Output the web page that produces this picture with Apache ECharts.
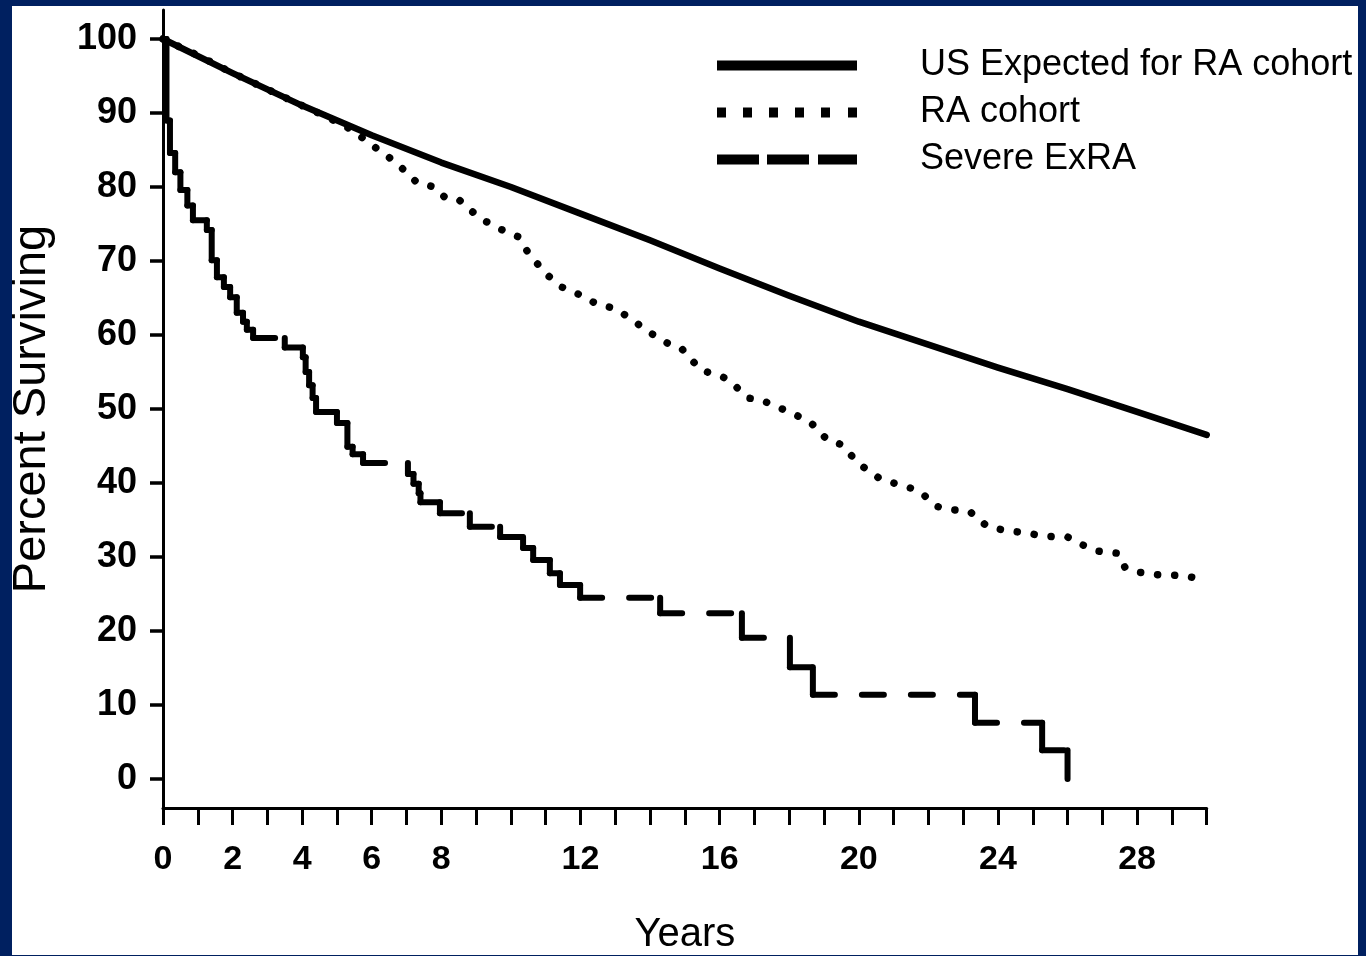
<!DOCTYPE html>
<html>
<head>
<meta charset="utf-8">
<title>Survival: US Expected vs RA cohort vs Severe ExRA</title>
<script src="https://cdn.jsdelivr.net/npm/echarts@6/dist/echarts.min.js"></script>
<style>
  html, body { margin: 0; padding: 0; background: #002060; width: 1366px; height: 956px; overflow: hidden; }
  #chart { position: absolute; left: 12px; top: 6px; width: 1346px; height: 949px; background: #ffffff; }
</style>
</head>
<body>
<div id="chart"></div>
<script>
// Expected survival of the general US population matched to the RA cohort
const expectedYears = [0, 2, 4, 6, 8, 10, 12, 14, 16, 18, 20, 22, 24, 26, 28, 30];
const expectedPct   = [100, 95.4, 91.0, 87.0, 83.3, 80.0, 76.4, 72.8, 69.0, 65.3, 61.8, 58.7, 55.6, 52.7, 49.6, 46.5];

// Observed survival, whole RA cohort
const cohortYears = [0, 1, 2, 3, 4, 4.7, 5.4, 6.2, 6.7, 7.3, 7.8, 8.1, 8.5, 9.1, 9.7, 10.2, 10.5, 11.0, 11.45, 12.0,
  12.5, 13.0, 13.5, 14.0, 14.5, 14.9, 15.45, 16.1, 16.3, 16.8, 17.2, 18.0, 18.5, 18.7, 19.1, 19.5, 20.0, 20.6,
  21.0, 21.5, 21.8, 22.2, 22.5, 23.2, 23.7, 24.2, 24.9, 25.3, 26.0, 26.3, 26.85, 27.45, 27.65, 27.95, 28.6, 29.3, 30];
const cohortPct = [100, 97.8, 95.4, 93.2, 91.0, 89.5, 87.8, 85.0, 83.3, 80.6, 80.0, 78.6, 78.3, 75.8, 74.3, 73.3, 71.1, 68.3, 66.5, 65.4,
  64.1, 63.6, 62.0, 60.3, 58.9, 58.2, 55.3, 54.3, 53.8, 51.5, 51.2, 49.6, 48.5, 47.8, 45.8, 45.2, 42.6, 40.6,
  40.0, 39.3, 38.7, 36.9, 36.5, 36.1, 34.1, 33.6, 33.2, 32.8, 32.7, 31.9, 30.8, 30.5, 28.6, 28.0, 27.6, 27.5, 26.9];

// Kaplan-Meier steps for severe extra-articular RA: time of each event and survival after it
const severeYears = [0, 0.1, 0.2, 0.35, 0.5, 0.7, 0.86, 1.26, 1.4, 1.55, 1.75, 1.93, 2.12, 2.3, 2.41, 2.59,
  3.5, 4.02, 4.1, 4.2, 4.3, 4.4, 5.0, 5.3, 5.45, 5.75, 7.04, 7.2, 7.35, 7.4, 7.96, 8.82, 9.69, 10.35, 10.64,
  11.12, 11.41, 11.99, 14.29, 16.64, 18.02, 18.68, 23.34, 25.27, 26.0];
const severePct = [100, 89, 84.6, 82, 79.6, 77.5, 75.5, 74.2, 70.1, 67.8, 66.5, 65.1, 63, 61.8, 60.7, 59.6,
  58.3, 57.0, 55.0, 53.2, 51.5, 49.6, 48.1, 44.9, 43.9, 42.7, 41.2, 39.9, 38.6, 37.4, 35.9, 34.1, 32.7, 31.2, 29.6,
  27.8, 26.2, 24.5, 22.4, 19.1, 15.1, 11.4, 7.6, 3.9, 0];

const seriesNames = ['US Expected for RA cohort', 'RA cohort', 'Severe ExRA'];
const yTickValues = [0, 10, 20, 30, 40, 50, 60, 70, 80, 90, 100];
const xLabelValues = [0, 2, 4, 6, 8, 12, 16, 20, 24, 28];

const FONT = '"Liberation Sans", Arial, Helvetica, sans-serif';

const pairs = (xs, ys) => xs.map((x, i) => [x, ys[i]]);

// each step: horizontal run at the current level, then the drop at the next event
const severeSegments = [];
for (let i = 0; i < severeYears.length - 1; i++) {
  severeSegments.push([severeYears[i], severeYears[i + 1], severePct[i], severePct[i + 1]]);
}

const xTicks = [];
for (let t = 0; t <= 30; t++) xTicks.push(t);

const chart = echarts.init(document.getElementById('chart'), null, { renderer: 'canvas' });

chart.setOption({
  backgroundColor: '#ffffff',
  animation: false,
  grid: { left: 151, top: 4, width: 1043.7, height: 798, containLabel: false, outerBoundsMode: 'none' },
  legend: {
    orient: 'vertical',
    left: 705,
    top: 36,
    padding: 0,
    itemWidth: 140,
    itemHeight: 10,
    itemGap: 0,
    selectedMode: false,
    itemStyle: { borderWidth: 0 },
    data: [
      { name: seriesNames[0], icon: 'path://M0,0H140V10H0Z' },
      { name: seriesNames[1], icon: 'path://M0,0h9v10h-9z M26,0h9v10h-9z M52,0h9v10h-9z M78,0h9v10h-9z M104,0h9v10h-9z M131,0h9v10h-9z' },
      { name: seriesNames[2], icon: 'path://M0,0h42v10h-42z M50,0h42v10h-42z M101,0h39v10h-39z' }
    ],
    formatter: name => '{gap| }' + name,
    textStyle: {
      color: '#000', fontFamily: FONT, fontSize: 36, lineHeight: 47,
      rich: { gap: { width: 58, fontSize: 36, lineHeight: 47 } }
    }
  },
  xAxis: {
    type: 'value',
    min: 0, max: 30, interval: 1,
    name: 'Years',
    nameLocation: 'middle',
    nameGap: 107,
    nameTextStyle: { color: '#000', fontFamily: FONT, fontSize: 40, lineHeight: 40 },
    axisLine: { show: true, onZero: false, lineStyle: { color: '#000', width: 3 } },
    axisTick: { show: true, inside: false, length: 17, customValues: xTicks, lineStyle: { color: '#000', width: 3 } },
    axisLabel: {
      show: true, customValues: xLabelValues, margin: 35,
      color: '#000', fontFamily: FONT, fontWeight: 'bold', fontSize: 34, lineHeight: 34
    },
    splitLine: { show: false }
  },
  yAxis: {
    type: 'value',
    min: -3.92, max: 103.92,
    name: 'Percent Surviving',
    nameLocation: 'middle',
    nameGap: 108,
    nameRotate: 90,
    nameTextStyle: { color: '#000', fontFamily: FONT, fontSize: 47, lineHeight: 46 },
    axisLine: { show: true, onZero: false, lineStyle: { color: '#000', width: 3 } },
    axisTick: { show: true, inside: false, length: 13, customValues: yTickValues, lineStyle: { color: '#000', width: 3.5 } },
    axisLabel: {
      show: true, customValues: yTickValues, margin: 26,
      color: '#000', fontFamily: FONT, fontWeight: 'bold', fontSize: 36
    },
    splitLine: { show: false }
  },
  series: [
    {
      name: seriesNames[0],
      type: 'line',
      data: pairs(expectedYears, expectedPct),
      showSymbol: false,
      symbol: 'none',
      color: '#000',
      lineStyle: { color: '#000', width: 6.5, cap: 'round', join: 'round' },
      z: 3
    },
    {
      name: seriesNames[1],
      type: 'line',
      data: pairs(cohortYears, cohortPct),
      showSymbol: false,
      symbol: 'none',
      color: '#000',
      lineStyle: { color: '#000', width: 7.5, type: [0.1, 17], cap: 'round', join: 'round' },
      z: 2
    },
    {
      name: seriesNames[2],
      type: 'custom',
      color: '#000',
      data: severeSegments,
      encode: { x: [0, 1], y: [2, 3] },
      z: 2,
      renderItem: function (params, api) {
        const t0 = api.value(0), t1 = api.value(1), v0 = api.value(2), v1 = api.value(3);
        const a = api.coord([t0, v0]);
        const b = api.coord([t1, v0]);
        const c = api.coord([t1, v1]);
        return {
          type: 'group',
          children: [
            {
              type: 'line',
              shape: { x1: a[0], y1: a[1], x2: b[0], y2: b[1] },
              style: { stroke: '#000', lineWidth: 6, lineDash: [22, 27], lineCap: 'round' }
            },
            {
              type: 'line',
              shape: { x1: b[0], y1: b[1], x2: c[0], y2: c[1] },
              style: { stroke: '#000', lineWidth: 6, lineCap: 'round' }
            }
          ]
        };
      }
    }
  ]
});
</script>
</body>
</html>
